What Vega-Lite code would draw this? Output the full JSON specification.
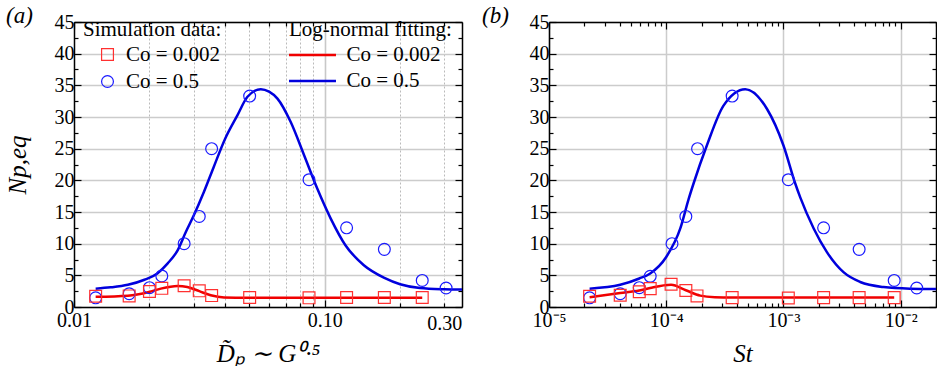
{
  "$schema": "https://vega.github.io/schema/vega-lite/v6.json",
  "padding": {"left": 5, "top": 5, "right": 0, "bottom": 0},
  "background": "white",
  "config": {
    "font": "Liberation Serif",
    "view": {"stroke": null},
    "axis": {
      "labelFont": "Liberation Serif", "labelFontSize": 20, "labelColor": "black",
      "titleFont": "Liberation Serif", "titleFontWeight": "normal", "titleColor": "black",
      "domainColor": "black", "domainWidth": 1.5, "tickColor": "black", "tickWidth": 1.2,
      "labelFlush": false, "labelOverlap": false, "labelBound": false
    },
    "legend": {
      "titleFont": "Liberation Serif", "titleFontSize": 21, "titleFontWeight": "normal", "titleColor": "black",
      "labelFont": "Liberation Serif", "labelFontSize": 21, "labelColor": "black", "padding": 0
    },
    "title": {"font": "Liberation Serif", "fontSize": 23, "fontWeight": "normal", "fontStyle": "italic", "color": "black"}
  },
  "datasets": {
    "pts_a": [
      {"x": 0.0122, "y": 1.45, "series": "Co = 0.5"},
      {"x": 0.0166, "y": 2.1, "series": "Co = 0.5"},
      {"x": 0.0200, "y": 3.05, "series": "Co = 0.5"},
      {"x": 0.0224, "y": 4.9, "series": "Co = 0.5"},
      {"x": 0.0275, "y": 10.0, "series": "Co = 0.5"},
      {"x": 0.0316, "y": 14.3, "series": "Co = 0.5"},
      {"x": 0.0354, "y": 25.0, "series": "Co = 0.5"},
      {"x": 0.0502, "y": 33.3, "series": "Co = 0.5"},
      {"x": 0.0866, "y": 20.1, "series": "Co = 0.5"},
      {"x": 0.1223, "y": 12.5, "series": "Co = 0.5"},
      {"x": 0.173, "y": 9.1, "series": "Co = 0.5"},
      {"x": 0.245, "y": 4.2, "series": "Co = 0.5"},
      {"x": 0.305, "y": 3.0, "series": "Co = 0.5"},
      {"x": 0.0122, "y": 1.7, "series": "Co = 0.002"},
      {"x": 0.0166, "y": 1.75, "series": "Co = 0.002"},
      {"x": 0.0200, "y": 2.45, "series": "Co = 0.002"},
      {"x": 0.0224, "y": 2.95, "series": "Co = 0.002"},
      {"x": 0.0275, "y": 3.35, "series": "Co = 0.002"},
      {"x": 0.0316, "y": 2.55, "series": "Co = 0.002"},
      {"x": 0.0354, "y": 1.8, "series": "Co = 0.002"},
      {"x": 0.0502, "y": 1.5, "series": "Co = 0.002"},
      {"x": 0.0866, "y": 1.45, "series": "Co = 0.002"},
      {"x": 0.1223, "y": 1.5, "series": "Co = 0.002"},
      {"x": 0.173, "y": 1.5, "series": "Co = 0.002"},
      {"x": 0.245, "y": 1.5, "series": "Co = 0.002"}
    ],
    "fit_a": [
      {"x": 0.0122, "y": 2.9, "fit": "0.5"},
      {"x": 0.0140, "y": 3.1, "fit": "0.5"},
      {"x": 0.0164, "y": 3.5, "fit": "0.5"},
      {"x": 0.0191, "y": 4.3, "fit": "0.5"},
      {"x": 0.0215, "y": 5.3, "fit": "0.5"},
      {"x": 0.0236, "y": 6.85, "fit": "0.5"},
      {"x": 0.0259, "y": 8.95, "fit": "0.5"},
      {"x": 0.0279, "y": 11.8, "fit": "0.5"},
      {"x": 0.0300, "y": 14.4, "fit": "0.5"},
      {"x": 0.0330, "y": 18.2, "fit": "0.5"},
      {"x": 0.0360, "y": 22.0, "fit": "0.5"},
      {"x": 0.0400, "y": 26.5, "fit": "0.5"},
      {"x": 0.0449, "y": 30.3, "fit": "0.5"},
      {"x": 0.0492, "y": 33.2, "fit": "0.5"},
      {"x": 0.0556, "y": 34.4, "fit": "0.5"},
      {"x": 0.0600, "y": 34.0, "fit": "0.5"},
      {"x": 0.0648, "y": 32.9, "fit": "0.5"},
      {"x": 0.0732, "y": 29.2, "fit": "0.5"},
      {"x": 0.0827, "y": 24.0, "fit": "0.5"},
      {"x": 0.0934, "y": 18.7, "fit": "0.5"},
      {"x": 0.1056, "y": 14.0, "fit": "0.5"},
      {"x": 0.121, "y": 9.75, "fit": "0.5"},
      {"x": 0.1433, "y": 6.6, "fit": "0.5"},
      {"x": 0.173, "y": 4.6, "fit": "0.5"},
      {"x": 0.20, "y": 3.6, "fit": "0.5"},
      {"x": 0.24, "y": 3.0, "fit": "0.5"},
      {"x": 0.30, "y": 2.8, "fit": "0.5"},
      {"x": 0.353, "y": 2.75, "fit": "0.5"},
      {"x": 0.0122, "y": 1.6, "fit": "0.002"},
      {"x": 0.0164, "y": 1.78, "fit": "0.002"},
      {"x": 0.0199, "y": 2.37, "fit": "0.002"},
      {"x": 0.0222, "y": 2.9, "fit": "0.002"},
      {"x": 0.0259, "y": 3.3, "fit": "0.002"},
      {"x": 0.0283, "y": 3.15, "fit": "0.002"},
      {"x": 0.0316, "y": 2.5, "fit": "0.002"},
      {"x": 0.0351, "y": 1.85, "fit": "0.002"},
      {"x": 0.0397, "y": 1.5, "fit": "0.002"},
      {"x": 0.0492, "y": 1.45, "fit": "0.002"},
      {"x": 0.245, "y": 1.45, "fit": "0.002"}
    ],
    "pts_b": [
      {"x": 2.22e-5, "y": 1.45, "series": "Co = 0.5"},
      {"x": 4.05e-5, "y": 2.1, "series": "Co = 0.5"},
      {"x": 5.89e-5, "y": 3.05, "series": "Co = 0.5"},
      {"x": 7.3e-5, "y": 4.85, "series": "Co = 0.5"},
      {"x": 1.12e-4, "y": 10.0, "series": "Co = 0.5"},
      {"x": 1.47e-4, "y": 14.3, "series": "Co = 0.5"},
      {"x": 1.85e-4, "y": 25.0, "series": "Co = 0.5"},
      {"x": 3.65e-4, "y": 33.3, "series": "Co = 0.5"},
      {"x": 1.10e-3, "y": 20.1, "series": "Co = 0.5"},
      {"x": 2.2e-3, "y": 12.5, "series": "Co = 0.5"},
      {"x": 4.42e-3, "y": 9.1, "series": "Co = 0.5"},
      {"x": 8.8e-3, "y": 4.2, "series": "Co = 0.5"},
      {"x": 1.37e-2, "y": 3.0, "series": "Co = 0.5"},
      {"x": 2.22e-5, "y": 1.7, "series": "Co = 0.002"},
      {"x": 4.05e-5, "y": 1.85, "series": "Co = 0.002"},
      {"x": 5.89e-5, "y": 2.4, "series": "Co = 0.002"},
      {"x": 7.3e-5, "y": 2.9, "series": "Co = 0.002"},
      {"x": 1.10e-4, "y": 3.6, "series": "Co = 0.002"},
      {"x": 1.47e-4, "y": 2.6, "series": "Co = 0.002"},
      {"x": 1.83e-4, "y": 1.75, "series": "Co = 0.002"},
      {"x": 3.65e-4, "y": 1.48, "series": "Co = 0.002"},
      {"x": 1.10e-3, "y": 1.42, "series": "Co = 0.002"},
      {"x": 2.2e-3, "y": 1.48, "series": "Co = 0.002"},
      {"x": 4.42e-3, "y": 1.48, "series": "Co = 0.002"},
      {"x": 8.8e-3, "y": 1.48, "series": "Co = 0.002"}
    ],
    "fit_b": [
      {"x": 2.22e-5, "y": 2.9, "fit": "0.5"},
      {"x": 4.05e-5, "y": 3.5, "fit": "0.5"},
      {"x": 5.89e-5, "y": 4.5, "fit": "0.5"},
      {"x": 7.3e-5, "y": 5.3, "fit": "0.5"},
      {"x": 1.0e-4, "y": 7.9, "fit": "0.5"},
      {"x": 1.318e-4, "y": 12.4, "fit": "0.5"},
      {"x": 1.55e-4, "y": 17.0, "fit": "0.5"},
      {"x": 1.71e-4, "y": 19.5, "fit": "0.5"},
      {"x": 2.22e-4, "y": 25.5, "fit": "0.5"},
      {"x": 3.08e-4, "y": 31.8, "fit": "0.5"},
      {"x": 4.72e-4, "y": 34.4, "fit": "0.5"},
      {"x": 7.22e-4, "y": 31.3, "fit": "0.5"},
      {"x": 1.0e-3, "y": 25.5, "fit": "0.5"},
      {"x": 1.26e-3, "y": 19.5, "fit": "0.5"},
      {"x": 1.39e-3, "y": 17.3, "fit": "0.5"},
      {"x": 1.81e-3, "y": 12.4, "fit": "0.5"},
      {"x": 2.34e-3, "y": 8.7, "fit": "0.5"},
      {"x": 3.25e-3, "y": 5.5, "fit": "0.5"},
      {"x": 4.51e-3, "y": 3.95, "fit": "0.5"},
      {"x": 7.13e-3, "y": 3.15, "fit": "0.5"},
      {"x": 1.2e-2, "y": 2.9, "fit": "0.5"},
      {"x": 2.0e-2, "y": 2.85, "fit": "0.5"},
      {"x": 2.22e-5, "y": 1.55, "fit": "0.002"},
      {"x": 4.05e-5, "y": 2.2, "fit": "0.002"},
      {"x": 5.89e-5, "y": 2.6, "fit": "0.002"},
      {"x": 7.3e-5, "y": 3.0, "fit": "0.002"},
      {"x": 1.10e-4, "y": 3.5, "fit": "0.002"},
      {"x": 1.47e-4, "y": 2.65, "fit": "0.002"},
      {"x": 1.95e-4, "y": 1.8, "fit": "0.002"},
      {"x": 2.6e-4, "y": 1.55, "fit": "0.002"},
      {"x": 3.65e-4, "y": 1.5, "fit": "0.002"},
      {"x": 8.8e-3, "y": 1.5, "fit": "0.002"}
    ]
  },
  "spacing": 19,
  "resolve": {
    "scale": {"color": "independent", "shape": "independent", "stroke": "independent"},
    "legend": {"color": "independent", "shape": "independent", "stroke": "independent"}
  },
  "hconcat": [
    {
      "width": 388, "height": 285,
      "title": {"text": "(a)", "anchor": "start", "frame": "group", "dx": -68, "dy": 20},
      "resolve": {"axis": {"x": "independent", "y": "independent"}},
      "layer": [
        {
          "data": {"name": "fit_a"},
          "mark": {"type": "line", "interpolate": "monotone", "strokeWidth": 2.5, "clip": true},
          "encoding": {
            "x": {"field": "x", "type": "quantitative",
              "scale": {"type": "log", "domain": [0.01, 0.353], "nice": false},
              "axis": {"orient": "bottom",
                "values": [0.01, 0.02, 0.03, 0.04, 0.05, 0.06, 0.07, 0.08, 0.09, 0.1, 0.2, 0.3],
                "labelExpr": "datum.value == 0.01 ? '0.01' : datum.value == 0.1 ? '0.10' : datum.value == 0.3 ? '0.30' : ''",
                "labelFlush": false, "labelOverlap": false, "labelBound": false, "labelAlign": "center",
                "labelFont": "Liberation Serif", "labelFontSize": 20, "labelColor": "black",
                "domainColor": "black", "domainWidth": 1.5, "tickColor": "black", "tickWidth": 1.2,
                "tickSize": {"condition": {"test": "datum.value == 0.01 || datum.value == 0.1", "value": -7}, "value": -4},
                "grid": true,
                "gridColor": {"condition": {"test": "datum.value == 0.1", "value": "#c8c8c8"}, "value": "#a8a8a8"},
                "gridDash": {"condition": {"test": "datum.value == 0.1", "value": []}, "value": [2, 2]},
                "gridWidth": {"condition": {"test": "datum.value == 0.1", "value": 1.6}, "value": 0.8},
                "labelPadding": 10,
                "title": "D̃ₚ ∼ G⁰·⁵", "titleFont": "Liberation Serif", "titleFontSize": 25, "titleFontStyle": "italic", "titleFontWeight": "normal", "titleColor": "black", "titlePadding": 8}},
            "y": {"field": "y", "type": "quantitative",
              "scale": {"domain": [0, 45], "nice": false},
              "axis": {"orient": "left",
                "values": [0, 2.5, 5, 7.5, 10, 12.5, 15, 17.5, 20, 22.5, 25, 27.5, 30, 32.5, 35, 37.5, 40, 42.5, 45],
                "labelExpr": "datum.value % 5 == 0 ? datum.label : ''",
                "labelFlush": false, "labelOverlap": false, "labelBound": false,
                "labelFont": "Liberation Serif", "labelFontSize": 20, "labelColor": "black",
                "domainColor": "black", "domainWidth": 1.5, "tickColor": "black", "tickWidth": 1.2,
                "tickSize": {"condition": {"test": "datum.value % 5 == 0", "value": -7}, "value": -4},
                "grid": true, "gridColor": "#cccccc", "gridWidth": 1.5,
                "gridOpacity": {"condition": {"test": "datum.value % 5 == 0", "value": 1}, "value": 0},
                "labelPadding": 7,
                "title": "Np,eq", "titleFont": "Liberation Serif", "titleFontSize": 25, "titleFontStyle": "italic", "titleFontWeight": "normal", "titleColor": "black", "titlePadding": 24}},
            "stroke": {"field": "fit", "type": "nominal",
              "scale": {"domain": ["0.002", "0.5"], "range": ["#f00000", "#0000dd"]},
              "legend": {"title": "Log-normal fitting:", "orient": "none", "legendX": 215, "legendY": -3,
                "symbolType": "M-2.5,0H2.5", "symbolSize": 353, "symbolStrokeWidth": 2.5,
                "symbolOffset": 12.5, "labelOffset": 23, "rowPadding": 5, "titlePadding": 4,
                "labelExpr": "'Co = ' + datum.label"}}
          }
        },
        {
          "data": {"name": "pts_a"},
          "mark": {"type": "point", "filled": false, "strokeWidth": 1.2, "size": 140, "opacity": 1},
          "encoding": {
            "x": {"field": "x", "type": "quantitative",
              "scale": {"type": "log", "domain": [0.01, 0.353], "nice": false},
              "axis": {"orient": "top",
                "values": [0.01, 0.02, 0.03, 0.04, 0.05, 0.06, 0.07, 0.08, 0.09, 0.1, 0.2, 0.3],
                "labels": false, "grid": false, "title": null,
                "domainColor": "black", "domainWidth": 1.5, "tickColor": "black", "tickWidth": 1.2,
                "tickSize": {"condition": {"test": "datum.value == 0.01 || datum.value == 0.1", "value": -7}, "value": -4}}},
            "y": {"field": "y", "type": "quantitative",
              "scale": {"domain": [0, 45], "nice": false},
              "axis": {"orient": "right",
                "values": [0, 2.5, 5, 7.5, 10, 12.5, 15, 17.5, 20, 22.5, 25, 27.5, 30, 32.5, 35, 37.5, 40, 42.5, 45],
                "labels": false, "grid": false, "title": null,
                "domainColor": "black", "domainWidth": 1.5, "tickColor": "black", "tickWidth": 1.2,
                "tickSize": {"condition": {"test": "datum.value % 5 == 0", "value": -7}, "value": -4}}},
            "color": {"field": "series", "type": "nominal",
              "scale": {"domain": ["Co = 0.002", "Co = 0.5"], "range": ["#ff3030", "#1a1aff"]},
              "legend": {"title": "Simulation data:", "orient": "none", "legendX": 9, "legendY": -3,
                "symbolSize": 140, "symbolStrokeWidth": 1.2, "symbolOffset": 14, "labelOffset": 8,
                "rowPadding": 5, "titlePadding": 4}},
            "shape": {"field": "series", "type": "nominal",
              "scale": {"domain": ["Co = 0.002", "Co = 0.5"], "range": ["square", "circle"]},
              "legend": {"title": "Simulation data:", "orient": "none", "legendX": 9, "legendY": -3,
                "symbolSize": 140, "symbolStrokeWidth": 1.2, "symbolOffset": 14, "labelOffset": 8,
                "rowPadding": 5, "titlePadding": 4}}
          }
        }
      ]
    },
    {
      "width": 387, "height": 285,
      "title": {"text": "(b)", "anchor": "start", "frame": "group", "dx": -67, "dy": 20},
      "resolve": {"axis": {"x": "independent", "y": "independent"}},
      "layer": [
        {
          "data": {"name": "fit_b"},
          "mark": {"type": "line", "interpolate": "monotone", "strokeWidth": 2.5, "clip": true},
          "encoding": {
            "x": {"field": "x", "type": "quantitative",
              "scale": {"type": "log", "domain": [1e-5, 0.02], "nice": false},
              "axis": {"orient": "bottom",
                "values": [1e-5, 2e-5, 3e-5, 4e-5, 5e-5, 6e-5, 7e-5, 8e-5, 9e-5, 1e-4, 2e-4, 3e-4, 4e-4, 5e-4, 6e-4, 7e-4, 8e-4, 9e-4, 1e-3, 2e-3, 3e-3, 4e-3, 5e-3, 6e-3, 7e-3, 8e-3, 9e-3, 1e-2, 2e-2],
                "labelExpr": "datum.value == 1e-5 ? '10⁻⁵' : datum.value == 1e-4 ? '10⁻⁴' : datum.value == 1e-3 ? '10⁻³' : datum.value == 1e-2 ? '10⁻²' : ''",
                "labelFlush": false, "labelOverlap": false, "labelBound": false, "labelAlign": "center",
                "labelFont": "Liberation Serif", "labelFontSize": 20, "labelColor": "black",
                "domainColor": "black", "domainWidth": 1.5, "tickColor": "black", "tickWidth": 1.2,
                "tickSize": {"condition": {"test": "datum.value == 1e-5 || datum.value == 1e-4 || datum.value == 1e-3 || datum.value == 1e-2", "value": -7}, "value": -4},
                "grid": true, "gridColor": "#cccccc", "gridWidth": 1.5,
                "gridOpacity": {"condition": {"test": "datum.value == 1e-5 || datum.value == 1e-4 || datum.value == 1e-3 || datum.value == 1e-2", "value": 1}, "value": 0},
                "labelPadding": 10,
                "title": "St", "titleFont": "Liberation Serif", "titleFontSize": 25, "titleFontStyle": "italic", "titleFontWeight": "normal", "titleColor": "black", "titlePadding": 8}},
            "y": {"field": "y", "type": "quantitative",
              "scale": {"domain": [0, 45], "nice": false},
              "axis": {"orient": "left",
                "values": [0, 2.5, 5, 7.5, 10, 12.5, 15, 17.5, 20, 22.5, 25, 27.5, 30, 32.5, 35, 37.5, 40, 42.5, 45],
                "labelExpr": "datum.value % 5 == 0 ? datum.label : ''",
                "labelFlush": false, "labelOverlap": false, "labelBound": false,
                "labelFont": "Liberation Serif", "labelFontSize": 20, "labelColor": "black",
                "domainColor": "black", "domainWidth": 1.5, "tickColor": "black", "tickWidth": 1.2,
                "tickSize": {"condition": {"test": "datum.value % 5 == 0", "value": -7}, "value": -4},
                "grid": true, "gridColor": "#cccccc", "gridWidth": 1.5,
                "gridOpacity": {"condition": {"test": "datum.value % 5 == 0", "value": 1}, "value": 0},
                "labelPadding": 7, "title": null}},
            "stroke": {"field": "fit", "type": "nominal",
              "scale": {"domain": ["0.002", "0.5"], "range": ["#f00000", "#0000dd"]},
              "legend": null}
          }
        },
        {
          "data": {"name": "pts_b"},
          "mark": {"type": "point", "filled": false, "strokeWidth": 1.2, "size": 140, "opacity": 1},
          "encoding": {
            "x": {"field": "x", "type": "quantitative",
              "scale": {"type": "log", "domain": [1e-5, 0.02], "nice": false},
              "axis": {"orient": "top",
                "values": [1e-5, 2e-5, 3e-5, 4e-5, 5e-5, 6e-5, 7e-5, 8e-5, 9e-5, 1e-4, 2e-4, 3e-4, 4e-4, 5e-4, 6e-4, 7e-4, 8e-4, 9e-4, 1e-3, 2e-3, 3e-3, 4e-3, 5e-3, 6e-3, 7e-3, 8e-3, 9e-3, 1e-2, 2e-2],
                "labels": false, "grid": false, "title": null,
                "domainColor": "black", "domainWidth": 1.5, "tickColor": "black", "tickWidth": 1.2,
                "tickSize": {"condition": {"test": "datum.value == 1e-5 || datum.value == 1e-4 || datum.value == 1e-3 || datum.value == 1e-2", "value": -7}, "value": -4}}},
            "y": {"field": "y", "type": "quantitative",
              "scale": {"domain": [0, 45], "nice": false},
              "axis": {"orient": "right",
                "values": [0, 2.5, 5, 7.5, 10, 12.5, 15, 17.5, 20, 22.5, 25, 27.5, 30, 32.5, 35, 37.5, 40, 42.5, 45],
                "labels": false, "grid": false, "title": null,
                "domainColor": "black", "domainWidth": 1.5, "tickColor": "black", "tickWidth": 1.2,
                "tickSize": {"condition": {"test": "datum.value % 5 == 0", "value": -7}, "value": -4}}},
            "color": {"field": "series", "type": "nominal",
              "scale": {"domain": ["Co = 0.002", "Co = 0.5"], "range": ["#ff3030", "#1a1aff"]},
              "legend": null},
            "shape": {"field": "series", "type": "nominal",
              "scale": {"domain": ["Co = 0.002", "Co = 0.5"], "range": ["square", "circle"]},
              "legend": null}
          }
        }
      ]
    }
  ]
}
